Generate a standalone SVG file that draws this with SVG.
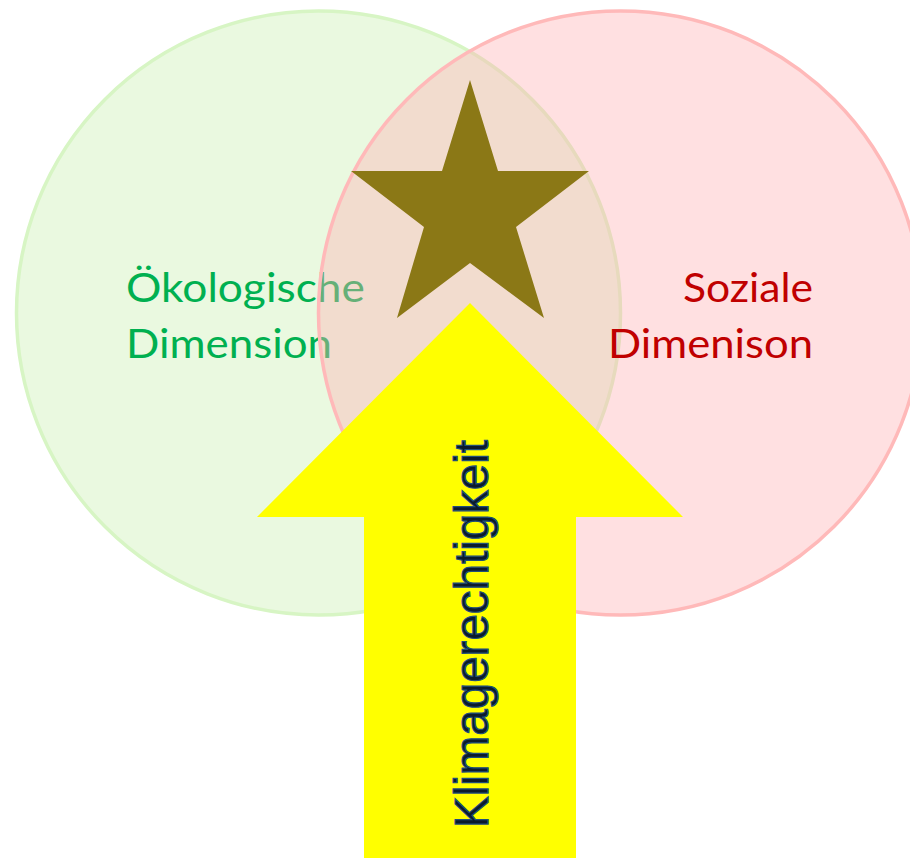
<svg xmlns="http://www.w3.org/2000/svg" width="910" height="858" viewBox="0 0 910 858">
<style>
.lbl{font-family:Lato,"Open Sans","Liberation Sans",sans-serif;font-size:41px}
.eco{fill:#00B050}
.soc{fill:#C00000}
.arrtxt{font-family:"Liberation Sans",Arial,sans-serif;font-size:48px;fill:#0B1B2B;stroke:#1F4E79;stroke-width:1.2}
</style>
<rect width="910" height="858" fill="#ffffff"/>
<g id="eco-circle">
<circle cx="318.5" cy="313" r="302" fill="#EAF9E0" stroke="#D7F5C4" stroke-width="3.5"/>
<text class="lbl eco" x="126" y="302" textLength="239" lengthAdjust="spacingAndGlyphs">Ökologische</text>
<text class="lbl eco" x="126" y="358" textLength="206" lengthAdjust="spacingAndGlyphs">Dimension</text>
</g>
<g id="soc-circle">
<circle cx="620.5" cy="313" r="302" fill="#FFB1B4" fill-opacity="0.4" stroke="#FFB9B9" stroke-width="3.5"/>
<text class="lbl soc" x="813" y="302" text-anchor="end" textLength="130" lengthAdjust="spacingAndGlyphs">Soziale</text>
<text class="lbl soc" x="813" y="358" text-anchor="end" textLength="205" lengthAdjust="spacingAndGlyphs">Dimenison</text>
</g>
<g id="star">
<polygon points="470,80 498,171 589,171 516,227 544,318 470,263 397,318 424,227 351,171 442,171" fill="#8B7816"/>
</g>
<g id="arrow">
<polygon points="470,303 683,517 576,517 576,858 364,858 364,517 257,517" fill="#FFFF00"/>
<text class="arrtxt" x="488" y="634" transform="rotate(-90 488 634)" text-anchor="middle" textLength="388" lengthAdjust="spacingAndGlyphs">Klimagerechtigkeit</text>
</g>
</svg>
